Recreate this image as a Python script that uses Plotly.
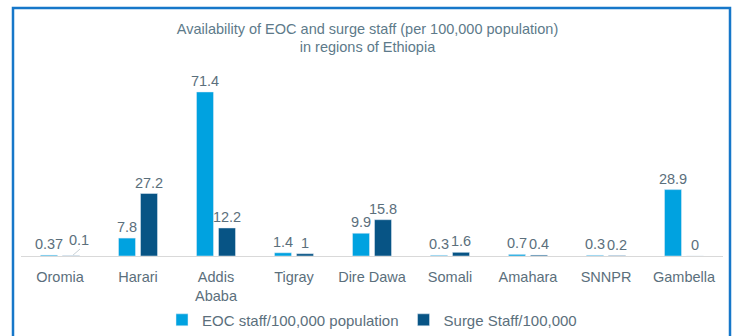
import plotly.graph_objects as go

regions = ["Oromia", "Harari", "Addis<br>Ababa", "Tigray", "Dire Dawa", "Somali", "Amahara", "SNNPR", "Gambella"]
eoc_vals = [0.37, 7.8, 71.4, 1.4, 9.9, 0.3, 0.7, 0.3, 28.9]
surge_vals = [0.1, 27.2, 12.2, 1, 15.8, 1.6, 0.4, 0.2, 0]
eoc_text = ["0.37", "7.8", "71.4", "1.4", "9.9", "0.3", "0.7", "0.3", "28.9"]
surge_text = ["0.1", "27.2", "12.2", "1", "15.8", "1.6", "0.4", "0.2", "0"]

FONT = "Liberation Sans, Arial, sans-serif"
TXT = "#5b6f7c"
LBL = 14.5

# Oromia surge label is drawn offset with a leader line (as in the original)
surge_bar_text = [""] + surge_text[1:]

fig = go.Figure()
fig.add_trace(go.Bar(
    x=regions, y=eoc_vals, name="EOC staff/100,000 population",
    marker=dict(color="#00A2E0"),
    text=eoc_text, textposition="outside", texttemplate="%{text}",
    constraintext="none", textangle=0,
    textfont=dict(family=FONT, size=LBL, color=TXT), cliponaxis=False,
))
fig.add_trace(go.Bar(
    x=regions, y=surge_vals, name="Surge Staff/100,000",
    marker=dict(color="#075485"),
    text=surge_bar_text, textposition="outside", texttemplate="%{text}",
    constraintext="none", textangle=0,
    textfont=dict(family=FONT, size=LBL, color=TXT), cliponaxis=False,
))

fig.update_layout(
    width=735, height=336,
    margin=dict(l=21, r=12, t=80, b=80, autoexpand=False),
    paper_bgcolor="white", plot_bgcolor="white",
    barmode="group", bargap=0.436, bargroupgap=0.227,
    font=dict(family=FONT, color=TXT),
    title=dict(
        text="Availability of EOC and surge staff (per 100,000 population)<br>in regions of Ethiopia",
        x=0.5, xanchor="center", y=0.9, yanchor="middle",
        font=dict(family=FONT, size=14.5, color="#5d7a8a"),
    ),
    showlegend=True,
    legend=dict(
        orientation="h", x=0.5, xanchor="center", y=-0.364, yanchor="middle",
        font=dict(family=FONT, size=15, color=TXT), bgcolor="rgba(0,0,0,0)",
        itemwidth=30, tracegroupgap=0,
    ),
    xaxis=dict(
        showgrid=False, showline=True, linecolor="#d9d9d9", linewidth=1,
        ticks="outside", ticklen=8, tickcolor="rgba(0,0,0,0)",
        tickfont=dict(family=FONT, size=14.5, color=TXT),
    ),
    yaxis=dict(range=[0, 76.6], visible=False),
    annotations=[dict(
        x=regions[0], y=surge_vals[0], xref="x", yref="y",
        text=surge_text[0], showarrow=False,
        xanchor="center", yanchor="bottom", xshift=19, yshift=6,
        font=dict(family=FONT, size=LBL, color=TXT),
    )],
    shapes=[
        dict(
            type="rect", xref="paper", yref="paper",
            x0=(13 - 21) / 702, x1=(730 - 21) / 702,
            y0=-0.6, y1=(256 - 8) / 176,
            line=dict(color="#1677C9", width=2.5), fillcolor="rgba(0,0,0,0)",
        ),
        dict(
            type="line", xref="x", yref="y",
            x0=0.167, y0=0.4, x1=0.256, y1=3.0,
            line=dict(color="#c8d0d6", width=1),
        ),
    ],
)

fig.write_html("out.html")
